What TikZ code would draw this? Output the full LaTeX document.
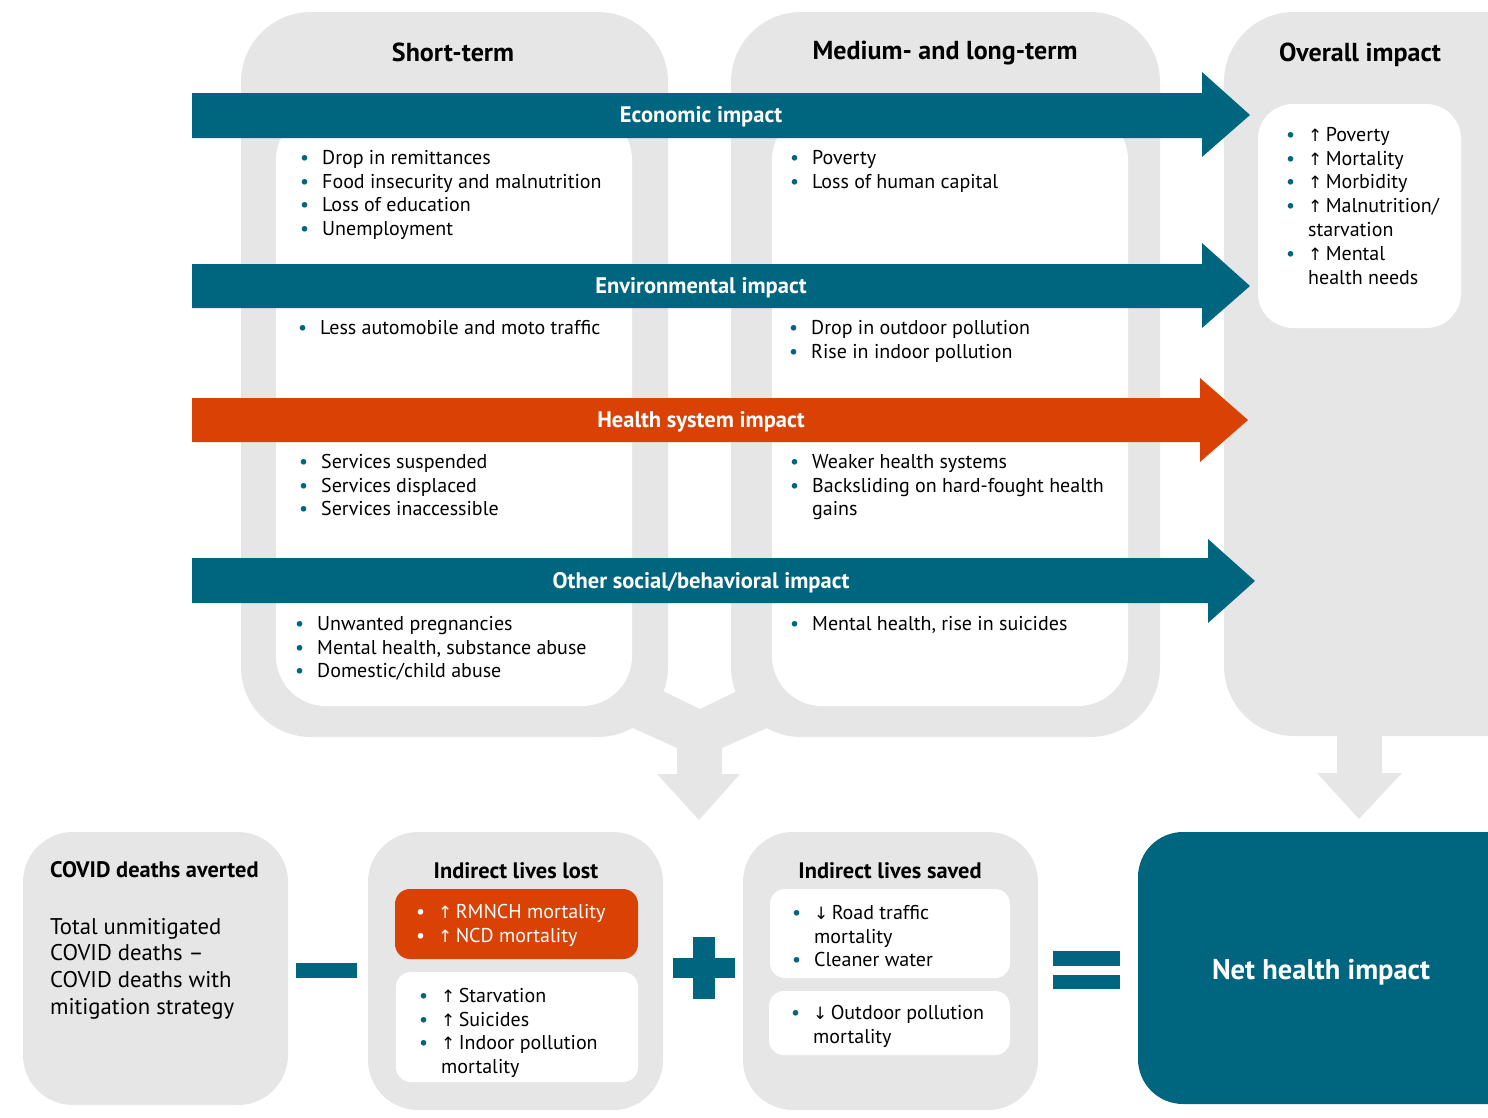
\documentclass[tikz,border=0pt]{standalone}
\usepackage{fontspec}
\setmainfont{PT Sans}
\newfontfamily\symfont{DejaVu Sans}
\definecolor{myteal}{HTML}{00657F}
\definecolor{myorange}{HTML}{DA4104}
\definecolor{mygray}{HTML}{E6E6E6}
\newcommand{\bl}[1]{\strut\makebox[22pt][l]{\textcolor{myteal}{•}}#1}
\newcommand{\wbl}[1]{\strut\makebox[22pt][l]{\textcolor{white}{•}}#1}
\newcommand{\cl}[1]{\strut\hspace*{22pt}#1}
\newcommand{\up}{{\symfont\fontsize{17}{17}\selectfont ↑}\,}
\newcommand{\dn}{{\symfont\fontsize{17}{17}\selectfont ↓}\,}
\tikzset{
  txt/.style={anchor=north west, yshift=16.66pt, align=left, inner sep=0pt, font=\fontsize{20}{23.8}\selectfont},
  head/.style={inner sep=0pt, font=\bfseries\fontsize{26}{30}\selectfont},
  alabel/.style={inner sep=0pt, text=white, font=\bfseries\fontsize{22.5}{26}\selectfont},
  btitle/.style={inner sep=0pt, font=\bfseries\fontsize{22.4}{26}\selectfont},
}
\begin{document}
\begin{tikzpicture}[x=1pt,y=-1pt]
\useasboundingbox (0,0) rectangle (1488,1117);
% gray columns
\fill[mygray, rounded corners=70pt] (241,12) rectangle (668,737);
\fill[mygray, rounded corners=70pt] (731,12) rectangle (1160,737);
\fill[mygray, rounded corners=70pt] (1224,12) rectangle (1600,736);
% merge arrow
\fill[mygray] (630,675) -- (700,709) -- (770,675) -- (785,720) -- (722,748) -- (722,774) -- (740,774) -- (699,820) -- (657,774) -- (677,774) -- (677,748) -- (615,720) -- cycle;
% overall down arrow
\fill[mygray] (1337,730) -- (1382,730) -- (1382,773) -- (1402,773) -- (1359,819) -- (1317,773) -- (1337,773) -- cycle;
% white boxes
\fill[white, rounded corners=50pt] (276,110) rectangle (632,706);
\fill[white, rounded corners=50pt] (772,110) rectangle (1128,706);
\fill[white, rounded corners=35pt] (1258,104) rectangle (1461,328);
% band arrows
\fill[myteal] (192,93) -- (1202,93) -- (1202,72) -- (1250,115) -- (1202,157) -- (1202,138) -- (192,138) -- cycle;
\fill[myteal] (192,264) -- (1202,264) -- (1202,243) -- (1250,286) -- (1202,328) -- (1202,308) -- (192,308) -- cycle;
\fill[myorange] (192,398) -- (1200,398) -- (1200,378) -- (1248,420) -- (1200,462) -- (1200,442) -- (192,442) -- cycle;
\fill[myteal] (192,558) -- (1208,558) -- (1208,539) -- (1255,581) -- (1208,623) -- (1208,603) -- (192,603) -- cycle;
% headers
\node[head] (hs) at (453,52) {Short-term};
\node[head] (hm) at (945,53) {Medium- and long-term};
\node[head] (ho) at (1360,55) {Overall impact};
% arrow labels
\node[alabel] (le) at (701,117) {Economic impact};
\node[alabel] (lv) at (701,288) {Environmental impact};
\node[alabel] (lh) at (701,422) {Health system impact};
\node[alabel] (lo) at (701,583) {Other social/behavioral impact};
% short-term lists
\node[txt] (se) at (300,164) {\bl{Drop in remittances}\\\bl{Food insecurity and malnutrition}\\\bl{Loss of education}\\\bl{Unemployment}};
\node[txt] (sv) at (298,334) {\bl{Less automobile and moto traffic}};
\node[txt] (sh) at (299,468) {\bl{Services suspended}\\\bl{Services displaced}\\\bl{Services inaccessible}};
\node[txt] (so) at (295,630) {\bl{Unwanted pregnancies}\\\bl{Mental health, substance abuse}\\\bl{Domestic/child abuse}};
% medium lists
\node[txt] (me) at (790,164) {\bl{Poverty}\\\bl{Loss of human capital}};
\node[txt] (mv) at (789,334) {\bl{Drop in outdoor pollution}\\\bl{Rise in indoor pollution}};
\node[txt] (mh) at (790,468) {\bl{Weaker health systems}\\\bl{Backsliding on hard-fought health}\\\cl{gains}};
\node[txt] (mo) at (790,630) {\bl{Mental health, rise in suicides}};
% overall list
\node[txt] (ol) at (1286,141) {\bl{\up Poverty}\\\bl{\up Mortality}\\\bl{\up Morbidity}\\\bl{\up Malnutrition/}\\\cl{starvation}\\\bl{\up Mental}\\\cl{health needs}};
% bottom boxes
\fill[mygray, rounded corners=50pt] (23,832) rectangle (288,1105);
\fill[mygray, rounded corners=50pt] (368,832) rectangle (663,1110);
\fill[mygray, rounded corners=50pt] (743,832) rectangle (1038,1110);
\fill[myteal, rounded corners=45pt] (1138,832) rectangle (1600,1104);
\fill[myorange, rounded corners=15pt] (395,889) rectangle (638,959);
\fill[white, rounded corners=15pt] (396,972) rectangle (638,1082);
\fill[white, rounded corners=15pt] (770,889) rectangle (1010,978);
\fill[white, rounded corners=15pt] (769,991) rectangle (1010,1055);
% operators
\fill[myteal] (296,963) rectangle (357,978);
\fill[myteal] (673,958) rectangle (735,978);
\fill[myteal] (693,937) rectangle (715,999);
\fill[myteal] (1053,951) rectangle (1120,966);
\fill[myteal] (1053,975) rectangle (1120,989);
% bottom texts
\node[btitle, anchor=base west] (ct) at (50,877) {COVID deaths averted};
\node[txt, yshift=2.03pt, font=\fontsize{22.7}{26.7}\selectfont] (cb) at (50,934) {\strut Total unmitigated\\\strut COVID deaths –\\\strut COVID deaths with\\\strut mitigation strategy};
\node[btitle] (lt) at (516,871) {Indirect lives lost};
\node[txt, text=white] (lo1) at (416,918) {\wbl{\up RMNCH mortality}\\\wbl{\up NCD mortality}};
\node[txt] (lo2) at (419,1002) {\bl{\up Starvation}\\\bl{\up Suicides}\\\bl{\up Indoor pollution}\\\cl{mortality}};
\node[btitle] (vt) at (890,871) {Indirect lives saved};
\node[txt] (sv1) at (792,919) {\bl{\dn Road traffic}\\\cl{mortality}\\\bl{Cleaner water}};
\node[txt] (sv2) at (791,1019) {\bl{\dn Outdoor pollution}\\\cl{mortality}};
\node[inner sep=0pt, text=white, font=\bfseries\fontsize{28.5}{32}\selectfont] (net) at (1321,972) {Net health impact};
\end{tikzpicture}
\end{document}
